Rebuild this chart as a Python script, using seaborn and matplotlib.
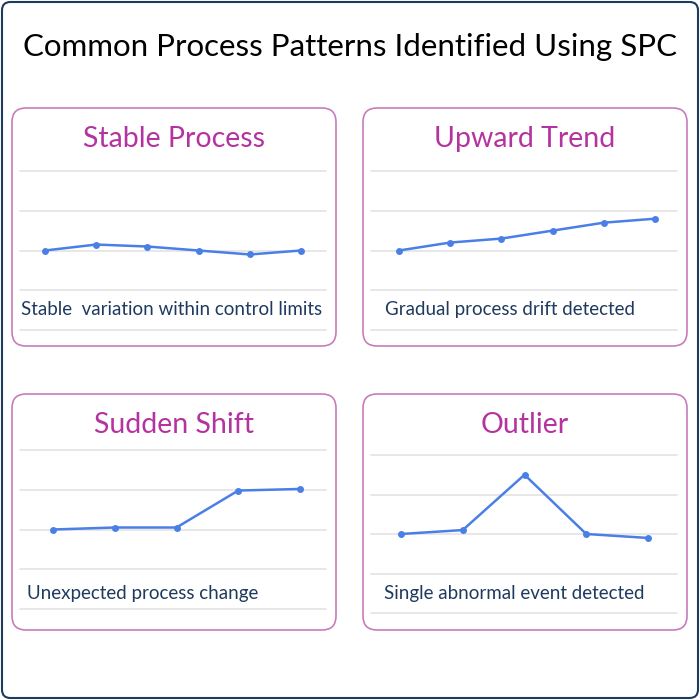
import matplotlib
matplotlib.use("Agg")
import matplotlib.pyplot as plt
import matplotlib.patches as patches
import seaborn as sns
import pandas as pd

sns.set_theme(style="white")
plt.rcParams['font.family'] = ['Lato', 'DejaVu Sans']

titles = ["Stable Process", "Upward Trend", "Sudden Shift", "Outlier"]
notes = ["Stable  variation within control limits", "Gradual process drift detected",
         "Unexpected process change", "Single abnormal event detected"]
stable = [2.0, 2.15, 2.1, 2.0, 1.9, 2.0]
upward = [2.0, 2.2, 2.3, 2.5, 2.7, 2.8]
shift = [2.0, 2.05, 2.05, 2.98, 3.02]
outlier = [2.0, 2.1, 3.5, 2.0, 1.9]
series = [stable, upward, shift, outlier]

W = H = 700
fig = plt.figure(figsize=(7, 7), dpi=100)
fig.patch.set_facecolor("white")

def fx(px):
    return px / W

def fy(py):
    return 1 - py / H

# outer frame
fig.patches.append(patches.FancyBboxPatch((fx(2), fy(698)), fx(696), 696 / H,
                   boxstyle="round,pad=0,rounding_size=0.012", transform=fig.transFigure,
                   fill=False, edgecolor="#1f3a5f", linewidth=1.5, zorder=-2))
fig.text(0.5, fy(47), "Common Process Patterns Identified Using SPC", ha="center", va="center",
         fontsize=22.5, color="black")

# box (left, top, right, bottom), grid (top, bottom), first/last point x, note (x, y)
panels = [
    ((12, 108, 336, 346), (171, 330), (45, 301), (21, 309)),
    ((363, 108, 687, 346), (171, 330), (399, 655), (385, 309)),
    ((12, 394, 336, 630), (450, 609), (53, 300), (27, 593)),
    ((363, 394, 687, 630), (455, 613), (401, 648), (384, 594)),
]

for (box, grid, xs, npos), title, note, vals in zip(panels, titles, notes, series):
    l, t, r, b = box
    fig.patches.append(patches.FancyBboxPatch((fx(l), fy(b)), fx(r - l), (b - t) / H,
                       boxstyle="round,pad=0,rounding_size=0.02", transform=fig.transFigure,
                       facecolor="white", edgecolor="#c77dbb", linewidth=1.2, zorder=-1))
    fig.text(fx((l + r) / 2), fy(t + 31), title, ha="center", va="center",
             fontsize=20.5, color="#b5339e")
    gl, gr = l + 8, r - 10
    gt, gb = grid
    ax = fig.add_axes([fx(gl), fy(gb), fx(gr - gl), (gb - gt) / H])
    ax.patch.set_alpha(0)
    n = len(vals)
    step = (xs[1] - xs[0]) / (n - 1)
    ax.set_xlim((gl - xs[0]) / step, (gr - xs[0]) / step)
    ax.set_ylim(0, 4)
    for k in range(5):
        ax.axhline(k, color="#e3e3e3", linewidth=1.2, zorder=0, clip_on=False)
    df = pd.DataFrame({"x": range(n), "y": vals})
    sns.lineplot(data=df, x="x", y="y", ax=ax, color="#4a7fe6", linewidth=1.8,
                 marker="o", markersize=5, markeredgewidth=0, zorder=3)
    ax.set_axis_off()
    fig.text(fx(npos[0]), fy(npos[1]), note, ha="left", va="center", fontsize=13.5,
             color="#1f3a5f")

fig.savefig("out.png", dpi=100, facecolor="white")
